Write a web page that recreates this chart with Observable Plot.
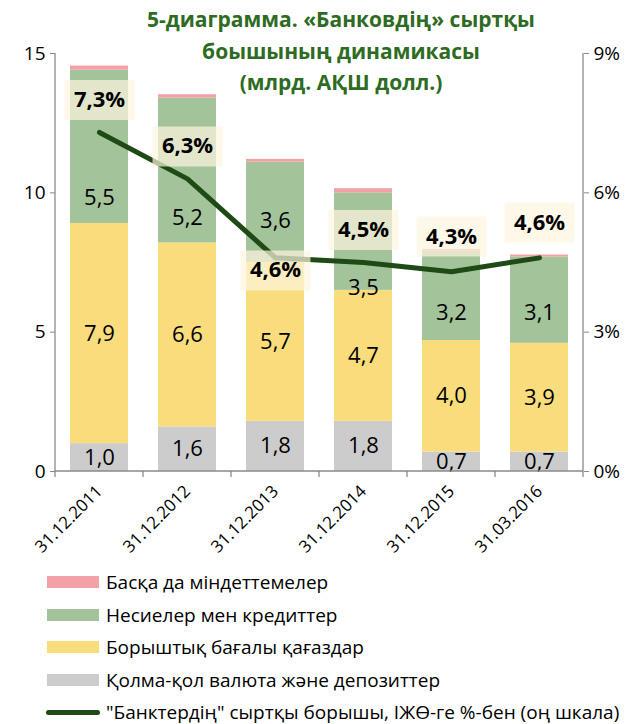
<!DOCTYPE html>
<html>
<head>
<meta charset="utf-8">
<script src="https://cdn.jsdelivr.net/npm/d3@7"></script>
<script src="https://cdn.jsdelivr.net/npm/@observablehq/plot@0.6"></script>
<style>
  html, body { margin: 0; padding: 0; background: #fff; }
  #wrap { position: relative; width: 641px; height: 724px; font-family: "Open Sans", sans-serif; overflow: hidden; }
  #title { position: absolute; left: 121px; width: 440px; top: 4px; text-align: center;
           font-weight: 700; font-size: 21px; line-height: 31.5px; color: #2e6b23; }
  #legend { position: absolute; left: 0; top: 572px; }
  .row { display: flex; align-items: center; height: 20px; margin-bottom: 12.5px; font-size: 19px; color: #000; white-space: nowrap; }
  .row span { display: block; line-height: 20px; height: 20px; }
  .sw { width: 52px; height: 12px; margin-left: 47px; margin-right: 7px; flex: none; }
  .ln { width: 54px; height: 5px; border-radius: 3px; margin-left: 46px; margin-right: 6px; flex: none; }
</style>
</head>
<body>
<div id="wrap">
  <div id="chart"></div>
  <div id="title">5-диаграмма. «Банковдің» сыртқы<br>боышының динамикасы<br>(млрд. АҚШ долл.)</div>
  <div id="legend"></div>
</div>
<script>
const dates = ["31.12.2011", "31.12.2012", "31.12.2013", "31.12.2014", "31.12.2015", "31.03.2016"];
const cash = [1.0, 1.6, 1.8, 1.8, 0.7, 0.7];
const securities = [7.9, 6.6, 5.7, 4.7, 4.0, 3.9];
const loans = [5.5, 5.2, 3.6, 3.5, 3.2, 3.1];
const other = [0.15, 0.12, 0.1, 0.15, 0.07, 0.07];
const debtPct = [7.3, 6.3, 4.6, 4.5, 4.3, 4.6];
// where the loan value labels sit (left-axis units) and the % labels sit (right-axis units)
const loanLabelAt = [9.8, 9.1, 9.0, 6.6, 5.7, 5.7];
const pctLabelAt = [8.0, 7.0, 4.33, 5.2, 5.06, 5.36];

const seriesNames = ["Қолма-қол валюта және депозиттер", "Борыштық бағалы қағаздар", "Несиелер мен кредиттер", "Басқа да міндеттемелер"];
const seriesColors = ["#cccccc", "#f9dc7b", "#a3c49a", "#f2a1a6"];
const lineName = "\"Банктердің\" сыртқы борышы, ІЖӨ-ге %-бен (оң шкала)";
const lineColor = "#1f4a16";

const seriesValues = [cash, securities, loans, other];
const leftMax = 15, rightMax = 9;
const toLeft = p => p * leftMax / rightMax;
const fmt = v => v.toFixed(1).replace(".", ",");

const rows = [];
dates.forEach((d, i) => {
  let acc = 0;
  seriesValues.forEach((vals, s) => {
    const v = vals[i];
    rows.push({date: d, series: seriesNames[s], s, value: v, y1: acc, y2: acc + v,
               label: s === 2 ? loanLabelAt[i] : acc + v / 2});
    acc += v;
  });
});
const lineRows = dates.map((d, i) => ({date: d, pct: debtPct[i], labelAt: pctLabelAt[i]}));

const boxSymbol = { draw(ctx) { ctx.moveTo(-35, -20); ctx.lineTo(35, -20); ctx.lineTo(35, 20); ctx.lineTo(-35, 20); ctx.closePath(); } };

const axisFrame = (index, scales, values, dims) => {
  const {width, height, marginLeft: l, marginRight: r, marginTop: t, marginBottom: b} = dims;
  const g = d3.create("svg:g").attr("stroke", "#8a8a8a").attr("stroke-width", 1.3).attr("fill", "none");
  const yb = height - b;
  g.append("line").attr("x1", l).attr("x2", l).attr("y1", t).attr("y2", yb);
  g.append("line").attr("x1", width - r).attr("x2", width - r).attr("y1", t).attr("y2", yb);
  g.append("line").attr("x1", l).attr("x2", width - r).attr("y1", yb).attr("y2", yb);
  const n = dates.length, step = (width - l - r) / n;
  for (let k = 0; k <= n; k++) {
    g.append("line").attr("x1", l + k * step).attr("x2", l + k * step).attr("y1", yb).attr("y2", yb + 6);
  }
  return g.node();
};

const chart = Plot.plot({
  width: 641,
  height: 560,
  marginLeft: 55,
  marginRight: 58,
  marginTop: 53,
  marginBottom: 89,
  style: {fontFamily: "Open Sans, sans-serif", fontSize: "19px", color: "#000", background: "transparent"},
  x: {domain: dates, paddingInner: 0.34, paddingOuter: 0.17, label: null},
  y: {domain: [0, leftMax], label: null},
  color: {domain: seriesNames, range: seriesColors},
  marks: [
    Plot.barY(rows, {x: "date", y1: "y1", y2: "y2", fill: "series"}),
    Plot.text(rows.filter(d => d.s < 3), {x: "date", y: "label", text: d => fmt(d.value), fontSize: 22, fill: "#000"}),
    Plot.lineY(lineRows, {x: "date", y: d => toLeft(d.pct), stroke: lineColor, strokeWidth: 5, strokeLinejoin: "round"}),
    Plot.dot(lineRows, {x: "date", y: d => toLeft(d.labelAt), symbol: boxSymbol, r: 10, fill: "#fdf5e0", fillOpacity: 0.7, stroke: null}),
    Plot.text(lineRows, {x: "date", y: d => toLeft(d.labelAt), text: d => fmt(d.pct) + "%", fontSize: 22, fontWeight: 700, fill: "#000"}),
    axisFrame,
    Plot.axisY({anchor: "left", ticks: [0, 5, 10, 15], tickSize: 5, tickPadding: 5, stroke: "#8a8a8a", label: null}),
    Plot.axisY({anchor: "right", ticks: [0, 3, 6, 9].map(toLeft), tickFormat: d => Math.round(d * rightMax / leftMax) + "%", tickSize: 5, tickPadding: 5, stroke: "#8a8a8a", label: null}),
    Plot.axisX({tickSize: 0, tickRotate: -45, tickPadding: 17, fontSize: 17, label: null})
  ]
});
document.getElementById("chart").appendChild(chart);

const legend = document.getElementById("legend");
[3, 2, 1, 0].forEach(s => {
  const row = document.createElement("div");
  row.className = "row";
  row.innerHTML = `<div class="sw" style="background:${seriesColors[s]}"></div><span>${seriesNames[s]}</span>`;
  legend.appendChild(row);
});
const lrow = document.createElement("div");
lrow.className = "row";
lrow.innerHTML = `<div class="ln" style="background:${lineColor}"></div><span></span>`;
lrow.querySelector("span").textContent = lineName;
legend.appendChild(lrow);
</script>
</body>
</html>
